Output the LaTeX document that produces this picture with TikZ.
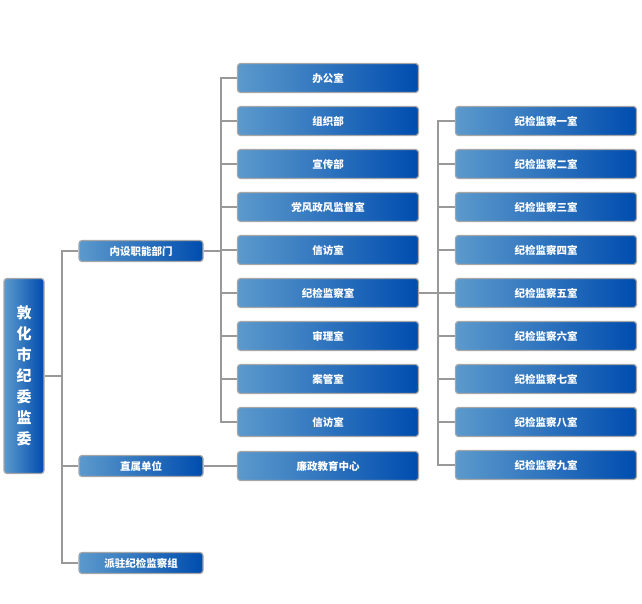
\documentclass[tikz,border=0pt]{standalone}
\usepackage{fontspec}
\setmainfont{Noto Sans CJK SC}
\begin{document}
\begin{tikzpicture}[x=1pt,y=-1pt,
 box/.style={draw=gray!70,line width=1.2pt,rounded corners=3pt,left color=blue!45!cyan!55!white!80!black,right color=blue!55!black!70!cyan,text=white,font=\bfseries\fontsize{10.5}{12}\selectfont,inner sep=0pt,anchor=center},
 l2/.style={box,minimum width=181,minimum height=29},
 l1/.style={box,minimum width=124,minimum height=21},
 ln/.style={draw=gray!80,line width=1.3pt}]
\definecolor{bl}{RGB}{80,140,205}
\useasboundingbox (0,0) rectangle (642,604);
\node[box,minimum width=40,minimum height=195,font=\bfseries\fontsize{15}{21}\selectfont,align=center] (root) at (24,376) {敦\\化\\市\\纪\\委\\监\\委};
\node[l1] (a) at (141,251) {内设职能部门};
\node[l1] (b) at (141,466) {直属单位};
\node[l1] (c) at (141,563) {派驻纪检监察组};
\coordinate (t) at (62,376);
\draw[ln] (root.east) -- (t);
\draw[ln] (a.west) -| (62,376) |- (c.west);
\draw[ln] (b.west) -- (62,466);
\foreach \t [count=\i] in {办公室,组织部,宣传部,党风政风监督室,信访室,纪检监察室,审理室,案管室,信访室}
  \node[l2] (m\i) at (328,{78+43*(\i-1)}) {\t};
\node[l2] (m10) at (328,466) {廉政教育中心};
\foreach \t [count=\i] in {一,二,三,四,五,六,七,八,九}
  \node[l2] (s\i) at (546,{121+43*(\i-1)}) {纪检监察\t 室};
\draw[ln] (a.east) -- (221,251);
\draw[ln] (m1.west) -| (221,422) -- (m9.west);
\foreach \i in {2,...,8} \draw[ln] (m\i.west) -- (221,{78+43*(\i-1)});
\draw[ln] (b.east) -- (m10.west);
\draw[ln] (m6.east) -- (438,293);
\draw[ln] (s1.west) -| (438,465) -- (s9.west);
\foreach \i in {2,...,8} \draw[ln] (s\i.west) -- (438,{121+43*(\i-1)});
\end{tikzpicture}
\end{document}
